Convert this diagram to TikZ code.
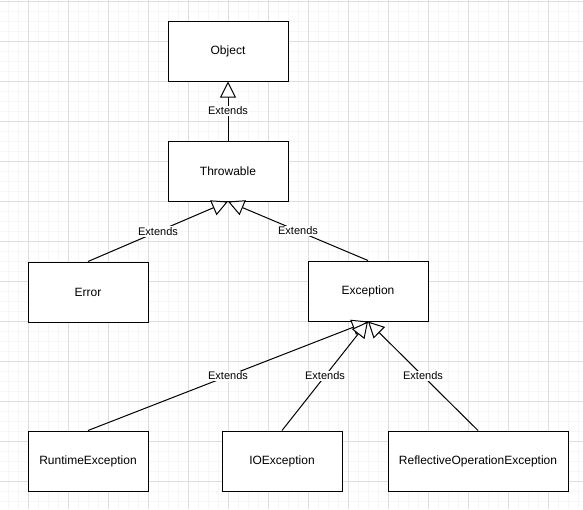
\documentclass[tikz,border=0pt]{standalone}
\usepackage{fontspec}
\setmainfont{Liberation Sans}
\usetikzlibrary{arrows.meta}
\definecolor{minorgrid}{HTML}{F6F6F6}
\definecolor{majorgrid}{HTML}{DEDEDE}
\tikzset{
  mingrid/.style={draw=minorgrid, line width=0.8pt},
  majgrid/.style={draw=majorgrid, line width=0.8pt},
  cls/.style={draw=black, fill=white, line width=1pt, rectangle, minimum width=120pt, minimum height=60pt, inner sep=0pt, font=\fontsize{12}{14}\selectfont},
  ext/.style={draw=black, line width=1pt, -{Triangle[open, length=16pt, width=16pt, fill=white]}},
  lbl/.style={fill=white, inner sep=1pt, font=\fontsize{11}{13}\selectfont}
}
\begin{document}
\begin{tikzpicture}[x=1pt,y=-1pt]
\useasboundingbox (0,0) rectangle (583,509);
\fill[white] (0,0) rectangle (583,509);
\foreach \x in {8,18,...,578} \draw[mingrid] (\x,0) -- (\x,509);
\foreach \y in {1,11,...,501} \draw[mingrid] (0,\y) -- (583,\y);
\foreach \x in {28,68,...,548} \draw[majgrid] (\x,0) -- (\x,509);
\foreach \y in {1,41,...,481} \draw[majgrid] (0,\y) -- (583,\y);

\node[cls] (obj) at (228,51) {Object};
\node[cls] (thr) at (228,171) {Throwable};
\node[cls] (err) at (88,292) {Error};
\node[cls] (exc) at (368,291) {Exception};
\node[cls] (rt) at (88,461) {RuntimeException};
\node[cls] (io) at (282,461) {IOException};
\node[cls, minimum width=180pt] (ref) at (478,461) {ReflectiveOperationException};

\draw[ext] (thr.north) -- (obj.south) node[midway, lbl] {Extends};
\draw[ext] (err.north) -- (thr.south) node[midway, lbl] {Extends};
\draw[ext] (exc.north) -- (thr.south) node[midway, lbl] {Extends};
\draw[ext] (rt.north) -- (exc.south) node[midway, lbl] {Extends};
\draw[ext] (io.north) -- (exc.south) node[midway, lbl] {Extends};
\draw[ext] (ref.north) -- (exc.south) node[midway, lbl] {Extends};
\end{tikzpicture}
\end{document}
